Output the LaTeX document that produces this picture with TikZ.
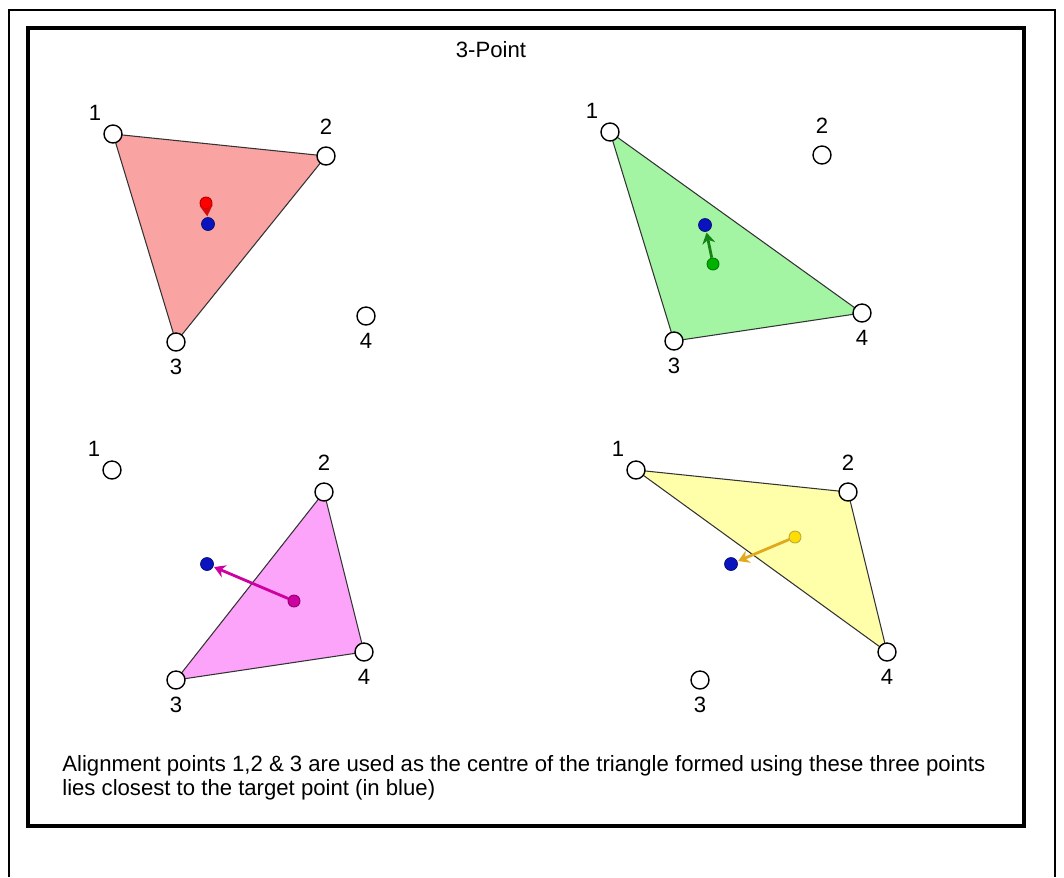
\documentclass[tikz,border=0pt]{standalone}
\usepackage{fontspec}
\setmainfont{Liberation Sans}
\usetikzlibrary{arrows.meta,backgrounds}
\definecolor{trired}{RGB}{249,163,163}
\definecolor{trigreen}{RGB}{163,245,163}
\definecolor{trimag}{RGB}{252,163,250}
\definecolor{triyel}{RGB}{255,255,170}
\definecolor{arred}{RGB}{215,10,10}
\definecolor{argreen}{RGB}{20,130,20}
\definecolor{armag}{RGB}{205,0,160}
\definecolor{aryel}{RGB}{225,170,30}
\definecolor{tgtblue}{RGB}{10,20,190}
\tikzset{
  apt/.style={draw,circle,fill=white,line width=0.8pt,minimum size=3.6mm,inner sep=0pt},
  num/.style={font=\fontsize{12.6}{13.6}\selectfont,inner sep=1pt},
  cen/.style={draw=#1!70!black,fill=#1,circle,minimum size=2.4mm,inner sep=0pt,line width=0.5pt},
  tgt/.style={draw=tgtblue!60!black,fill=tgtblue,circle,minimum size=2.6mm,inner sep=0pt},
  tri/.style={draw=black!80,line width=0.6pt,fill=#1},
  move/.style={draw=#1,line width=1.6pt,-{Stealth[length=2.2mm,width=2.6mm]},shorten >=0.5pt},
  nw/.style={label={[num,label distance=3pt]130:#1}},
  nn/.style={label={[num,label distance=5.5pt]90:#1}},
  ns/.style={label={[num,label distance=3pt]-90:#1}}
}
\begin{document}
\begin{tikzpicture}[x=0.02cm,y=-0.02cm]
\useasboundingbox (0,0) rectangle (1064,877);
% outer and inner frame
\draw[line width=0.6pt] (9,877) |- (1055,10) -- (1055,877);
\draw[line width=2.8pt] (28,28) rectangle (1024,826);
\node[num] (title) at (491,50) {3-Point};
% top left: points 1,2,3
\node[apt,nw=1] (a1) at (113,134) {};
\node[apt,nn=2] (a2) at (326,156) {};
\node[apt,ns=3] (a3) at (176,342) {};
\node[apt,ns=4] (a4) at (366,316) {};
\node[cen=red] (ac) at (206,203) {};
\node[tgt] (at) at (208,224) {};
% top right: points 1,3,4
\node[apt,nw=1] (b1) at (610,132) {};
\node[apt,nn=2] (b2) at (822,155) {};
\node[apt,ns=3] (b3) at (674,341) {};
\node[apt,ns=4] (b4) at (862,313) {};
\node[cen=green!70!black] (bc) at (713,264) {};
\node[tgt] (bt) at (705,225) {};
% bottom left: points 2,3,4
\node[apt,nw=1] (c1) at (112,470) {};
\node[apt,nn=2] (c2) at (324,492) {};
\node[apt,ns=3] (c3) at (176,680) {};
\node[apt,ns=4] (c4) at (364,652) {};
\node[cen=armag] (cc) at (294,601) {};
\node[tgt] (ct) at (207,564) {};
% bottom right: points 1,2,4
\node[apt,nw=1] (d1) at (636,470) {};
\node[apt,nn=2] (d2) at (848,492) {};
\node[apt,ns=3] (d3) at (700,680) {};
\node[apt,ns=4] (d4) at (887,652) {};
\node[cen=yellow!80!orange] (dc) at (795,537) {};
\node[tgt] (dt) at (731,564) {};
% triangles under the points
\begin{scope}[on background layer]
\filldraw[tri=trired] (a1.center) -- (a2.center) -- (a3.center) -- cycle;
\filldraw[tri=trigreen] (b1.center) -- (b3.center) -- (b4.center) -- cycle;
\filldraw[tri=trimag] (c2.center) -- (c3.center) -- (c4.center) -- cycle;
\filldraw[tri=triyel] (d1.center) -- (d2.center) -- (d4.center) -- cycle;
\end{scope}
% shift arrows
\draw[move=arred] (ac) -- (at);
\draw[move=argreen] (bc) -- (bt);
\draw[move=armag] (cc) -- (ct);
\draw[move=aryel] (dc) -- (dt);
\node[num,anchor=north west,align=left,inner sep=0pt] (note) at (62,755)
  {Alignment points 1,2 \& 3 are used as the centre of the triangle formed using these three points\\
   lies closest to the target point (in blue)};
\end{tikzpicture}
\end{document}
